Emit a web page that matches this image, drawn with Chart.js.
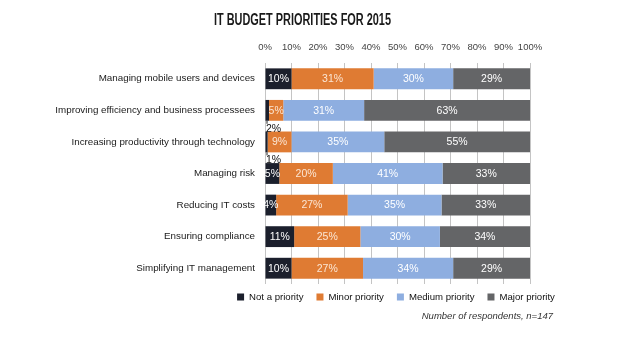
<!DOCTYPE html>
<html>
<head>
<meta charset="utf-8">
<script src="https://cdn.jsdelivr.net/npm/chart.js@4.4.1/dist/chart.umd.min.js"></script>
<style>
  body { margin: 0; background: #fff; }
  #wrap { width: 620px; height: 340px; }
</style>
</head>
<body>
<div id="wrap"><canvas id="budgetChart" width="620" height="340"></canvas></div>
<script>
// dados (valores estimados; rótulos arredondados)
const categorias = [
    'Managing mobile users and devices',
    'Improving efficiency and business processees',
    'Increasing productivity through technology',
    'Managing risk',
    'Reducing IT costs',
    'Ensuring compliance',
    'Simplifying IT management'
];
const notPriority = [10, 1.5, 1, 5.4, 4.2, 11, 10];
const minorPriority = [31, 5.4, 9, 20.2, 27, 25, 27];
const mediumPriority = [30, 30.5, 35, 41.4, 35.4, 30, 34];
const majorPriority = [29, 62.6, 55, 33, 33.4, 34, 29];
const tickValues = [0, 10, 20, 30, 40, 50, 60, 70, 80, 90, 100];
const tituloTexto = 'IT BUDGET PRIORITIES FOR 2015';
const footnote = 'Number of respondents, n=147';

const fontBase = '"Liberation Sans", Arial, sans-serif';

// rótulos dentro das barras, título condensado, legenda e nota
const labelPlugin = {
    id: 'barLabels',
    afterDatasetsDraw(chart) {
        const ctx = chart.ctx;
        ctx.save();
        ctx.font = '10.5px ' + fontBase;
        ctx.textBaseline = 'middle';
        chart.data.datasets.forEach((ds, di) => {
            const meta = chart.getDatasetMeta(di);
            meta.data.forEach((bar, i) => {
                const v = ds.data[i];
                const txt = Math.round(v) + '%';
                if (v >= 3) {
                    ctx.textAlign = 'center';
                    ctx.fillStyle = ds.labelColor;
                    ctx.fillText(txt, (bar.x + bar.base) / 2, bar.y + 0.5);
                } else {
                    // valor pequeno: texto preto abaixo da barra com traço
                    const bottom = bar.y + bar.height / 2;
                    ctx.strokeStyle = '#222';
                    ctx.lineWidth = 1;
                    ctx.beginPath();
                    ctx.moveTo(bar.base + 1.5, bottom);
                    ctx.lineTo(bar.base + 1.5, bottom + 3);
                    ctx.stroke();
                    ctx.textAlign = 'left';
                    ctx.fillStyle = '#111';
                    ctx.fillText(txt, bar.base + 0.5, bottom + 8);
                }
            });
        });
        ctx.restore();
    },
    afterDraw(chart) {
        const ctx = chart.ctx;
        ctx.save();
        // título em fonte condensada (simulada com escala horizontal)
        ctx.font = 'bold 16px ' + fontBase;
        ctx.fillStyle = '#1a1a1a';
        ctx.textBaseline = 'middle';
        ctx.textAlign = 'left';
        const tw = ctx.measureText(tituloTexto).width;
        const alvo = 177;
        ctx.save();
        ctx.translate(214, 21);
        ctx.scale(alvo / tw, 1);
        ctx.fillText(tituloTexto, 0, 0);
        ctx.restore();

        // legenda centrada na área do gráfico
        ctx.font = '9.6px ' + fontBase;
        const box = 7, gap = 5, sep = 13;
        const itens = chart.data.datasets.map(ds => ({
            text: ds.label, color: ds.backgroundColor,
            w: box + gap + ctx.measureText(ds.label).width
        }));
        const total = itens.reduce((s, it) => s + it.w, 0) + sep * (itens.length - 1);
        let x = 396 - total / 2;
        const y = 297;
        itens.forEach(it => {
            ctx.fillStyle = it.color;
            ctx.fillRect(x, y - box / 2, box, box);
            ctx.fillStyle = '#111';
            ctx.fillText(it.text, x + box + gap, y + 0.5);
            x += it.w + sep;
        });

        ctx.font = 'italic 9.5px ' + fontBase;
        ctx.fillStyle = '#333';
        ctx.textAlign = 'right';
        ctx.fillText(footnote, 553, 316);
        ctx.restore();
    }
};

const ctx = document.getElementById('budgetChart').getContext('2d');
const budgetChart = new Chart(ctx, {
    type: 'bar',
    data: {
        labels: categorias,
        datasets: [
            { label: 'Not a priority', data: notPriority, backgroundColor: '#1b1f2c', labelColor: '#ffffff' },
            { label: 'Minor priority', data: minorPriority, backgroundColor: '#df7b33', labelColor: '#fbe6d4' },
            { label: 'Medium priority', data: mediumPriority, backgroundColor: '#8eaee0', labelColor: '#ffffff' },
            { label: 'Major priority', data: majorPriority, backgroundColor: '#646567', labelColor: '#ffffff' }
        ]
    },
    options: {
        indexAxis: 'y',
        responsive: false,
        animation: false,
        maintainAspectRatio: false,
        datasets: {
            bar: { categoryPercentage: 1, barPercentage: 0.66, borderWidth: 0 }
        },
        layout: { padding: { left: 0, right: 90, top: 0, bottom: 56 } },
        scales: {
            x: {
                position: 'top',
                stacked: true,
                min: 0,
                max: 100,
                afterBuildTicks: (scale) => {
                    scale.ticks = tickValues.map(v => ({ value: v }));
                },
                afterFit: (scale) => { scale.height = 63; },
                grid: { color: '#c4c4c4', drawTicks: false, lineWidth: 1 },
                border: { display: false },
                ticks: {
                    padding: 10,
                    autoSkip: false,
                    maxRotation: 0,
                    minRotation: 0,
                    color: '#444',
                    font: { size: 9.5, family: fontBase },
                    callback: (v) => v + '%'
                }
            },
            y: {
                stacked: true,
                afterFit: (scale) => { scale.width = 265; },
                grid: { display: false },
                border: { display: false },
                ticks: {
                    padding: 2,
                    color: '#1a1a1a',
                    font: { size: 9.8, family: fontBase }
                }
            }
        },
        plugins: {
            title: { display: false },
            legend: { display: false },
            tooltip: { enabled: false }
        }
    },
    plugins: [labelPlugin]
});
</script>
</body>
</html>
